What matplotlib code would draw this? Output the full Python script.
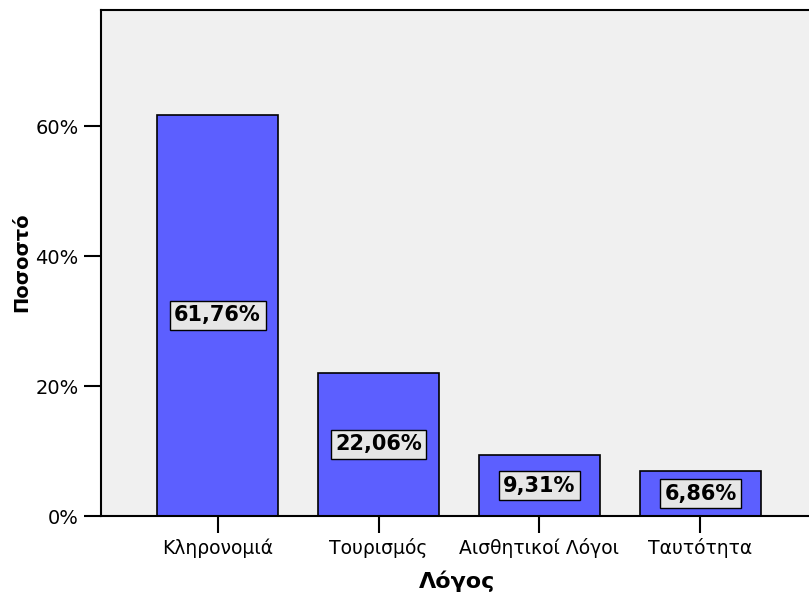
import matplotlib.pyplot as plt
import numpy as np

categories = ['Κληρονομιά', 'Τουρισμός', 'Αισθητικοί Λόγοι', 'Ταυτότητα']
percent = [61.76, 22.06, 9.31, 6.86]
value_labels = ['61,76%', '22,06%', '9,31%', '6,86%']
y_ticks = [0, 20, 40, 60]
y_ticklabels = ['0%', '20%', '40%', '60%']

fig = plt.figure(figsize=(8.09, 6), dpi=100)
# right edge of the plot frame lies just outside the picture, as in the original
ax = fig.add_axes([101/809, 84/600, 716/809, 506/600])
ax.set_facecolor('#f0f0f0')

x = np.arange(len(categories))
ax.bar(x, percent, width=0.75, color='#5c5fff', edgecolor='black', linewidth=1.2, zorder=2)

for xi, v, lab in zip(x, percent, value_labels):
    ax.text(xi, v / 2, lab, ha='center', va='center', fontsize=15, fontweight='bold',
            bbox=dict(boxstyle='square,pad=0.22', facecolor='#e6e6e6', edgecolor='black', linewidth=1),
            zorder=3)

ax.set_xlim(-0.724, 3.724)
ax.set_ylim(0, 77.85)
ax.set_xticks(x)
ax.set_xticklabels(categories, fontsize=13.5)
ax.set_yticks(y_ticks)
ax.set_yticklabels(y_ticklabels, fontsize=14)
ax.tick_params(axis='both', direction='out', length=12, width=1.5, pad=4)
for s in ax.spines.values():
    s.set_linewidth(1.5)

ax.set_xlabel('Λόγος', fontsize=16, fontweight='bold')
ax.set_ylabel('Ποσοστό', fontsize=14, fontweight='bold')
ax.xaxis.set_label_coords((457 - 101) / 716, -(571 - 516) / 506)
ax.yaxis.set_label_coords(-(101 - 31) / 716, (516 - 262) / 506)

fig.savefig('out.png', dpi=100)
